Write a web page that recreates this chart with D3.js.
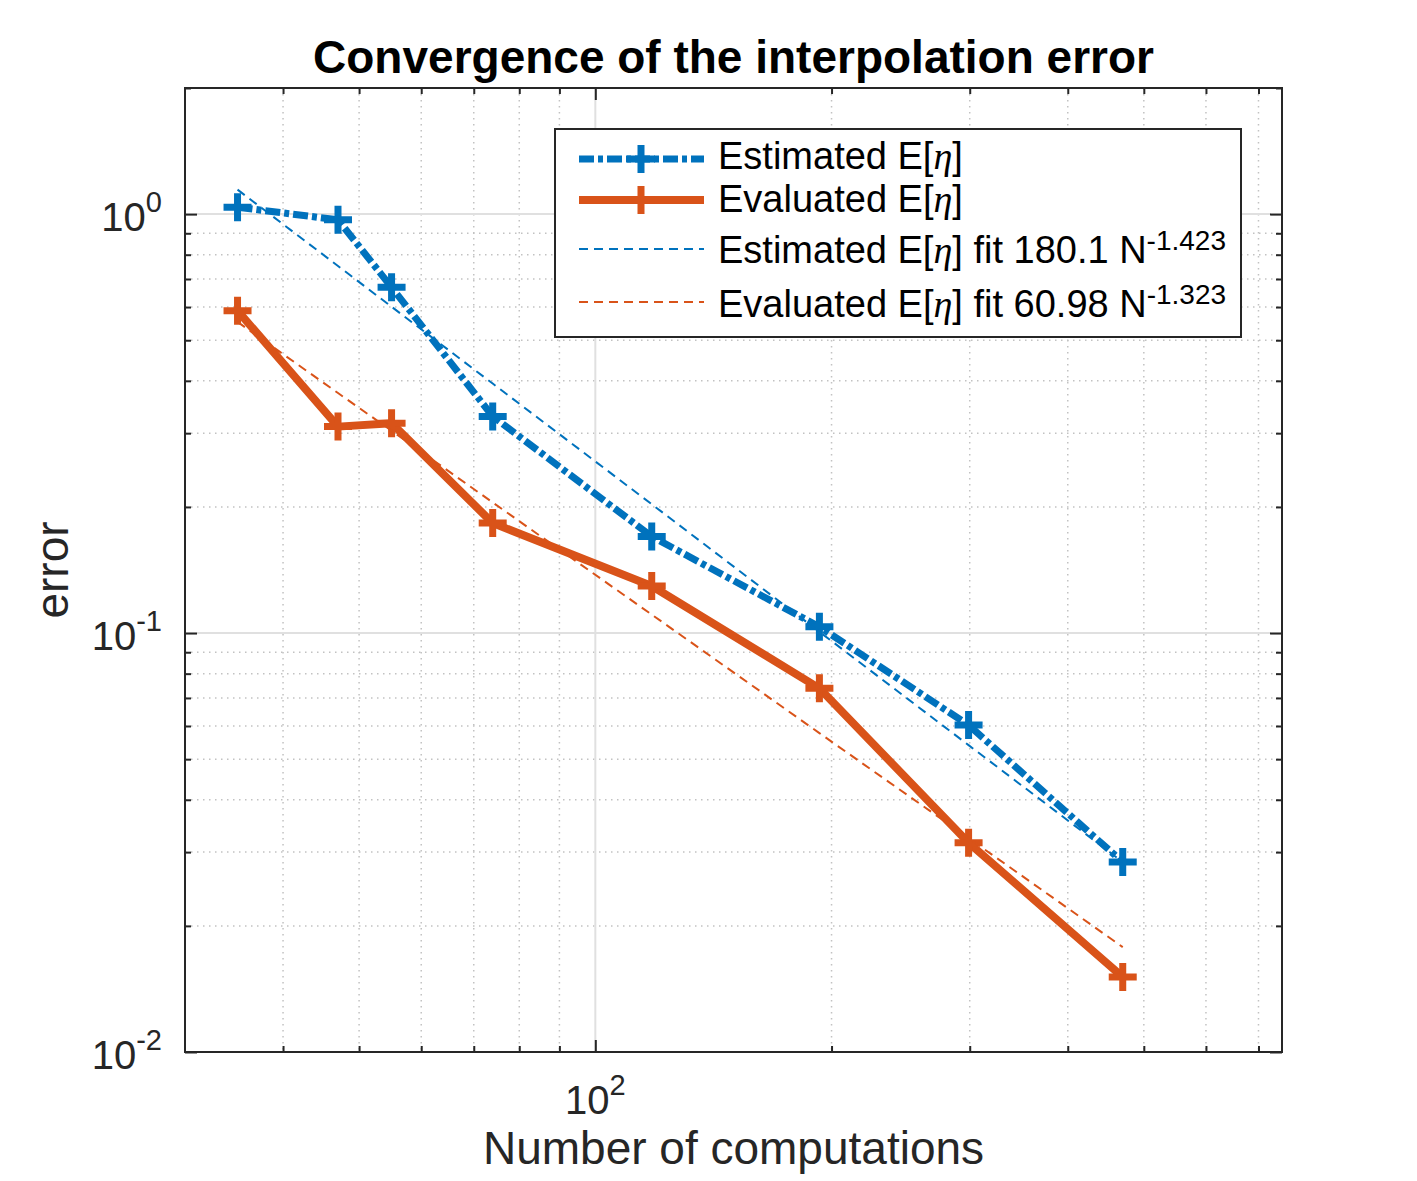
<!DOCTYPE html>
<html>
<head>
<meta charset="utf-8">
<script src="https://cdn.jsdelivr.net/npm/d3@7"></script>
<style>
  body { margin: 0; background: #fff; }
  text { font-family: "Liberation Sans", Arial, sans-serif; fill: #262626; }
</style>
</head>
<body>
<div id="chart"></div>
<script>
// data
var nComputations = [35, 47, 55, 74, 118, 193, 299, 470];
var estimatedErr = [1.039, 0.969, 0.669, 0.329, 0.170, 0.1035, 0.0603, 0.0284];
var evaluatedErr = [0.588, 0.311, 0.317, 0.183, 0.1295, 0.0738, 0.0316, 0.0151];
var estimatedFit = [1.144, 0.752, 0.601, 0.394, 0.203, 0.1007, 0.054, 0.0284];
var evaluatedFit = [0.553, 0.374, 0.304, 0.205, 0.1107, 0.0577, 0.0324, 0.0178];

var xMajor = [100];
var xMinor = [40, 50, 60, 70, 80, 90, 200, 300, 400, 500, 600, 700];
var yMajor = [0.01, 0.1, 1];
var yMinor = [0.02, 0.03, 0.04, 0.05, 0.06, 0.07, 0.08, 0.09,
              0.2, 0.3, 0.4, 0.5, 0.6, 0.7, 0.8, 0.9, 2];

var legendLabels = [
  {name: "Estimated E[", sup: null},
  {name: "Evaluated E[", sup: null},
  {name: "Estimated E[", after: "] fit 180.1 N", sup: "-1.423"},
  {name: "Evaluated E[", after: "] fit 60.98 N", sup: "-1.323"}
];

var blue = "#0072BD";
var orange = "#D95319";
var axisColor = "#262626";

var svgWidth = 1417;
var svgHeight = 1181;

var margin = {top: 88, right: 135, bottom: 129, left: 185};
var width = svgWidth - margin.left - margin.right;
var height = svgHeight - margin.top - margin.bottom;

var svg = d3.select("#chart")
  .append("svg")
  .attr("width", svgWidth)
  .attr("height", svgHeight);

var chartGroup = svg.append("g")
  .attr("transform", `translate(${margin.left}, ${margin.top})`);

var xScale = d3.scaleLog().domain([30, 750]).range([0, width]);
var yScale = d3.scaleLog().domain([0.01, 2]).range([height, 0]);

// grid lines
var gridGroup = chartGroup.append("g");

gridGroup.selectAll(".xminor")
  .data(xMinor)
  .enter()
  .append("line")
  .attr("x1", d => xScale(d)).attr("x2", d => xScale(d))
  .attr("y1", 0).attr("y2", height)
  .attr("stroke", "#c2c2c2")
  .attr("stroke-width", 1.5)
  .attr("stroke-dasharray", "1.5,4.5");

gridGroup.selectAll(".yminor")
  .data(yMinor)
  .enter()
  .append("line")
  .attr("x1", 0).attr("x2", width)
  .attr("y1", d => yScale(d)).attr("y2", d => yScale(d))
  .attr("stroke", "#c2c2c2")
  .attr("stroke-width", 1.5)
  .attr("stroke-dasharray", "1.5,4.5");

gridGroup.selectAll(".xmajor")
  .data(xMajor)
  .enter()
  .append("line")
  .attr("x1", d => xScale(d)).attr("x2", d => xScale(d))
  .attr("y1", 0).attr("y2", height)
  .attr("stroke", "#e0e0e0")
  .attr("stroke-width", 2);

gridGroup.selectAll(".ymajor")
  .data(yMajor)
  .enter()
  .append("line")
  .attr("x1", 0).attr("x2", width)
  .attr("y1", d => yScale(d)).attr("y2", d => yScale(d))
  .attr("stroke", "#e0e0e0")
  .attr("stroke-width", 2);

// series
var line = d3.line()
  .x(d => xScale(d[0]))
  .y(d => yScale(d[1]));

function plusPath(s) {
  return `M${-s},0H${s}M0,${-s}V${s}`;
}

function drawSeries(values, color, lw, dash, marker) {
  var pts = nComputations.map((n, i) => [n, values[i]]);
  var g = chartGroup.append("g");
  g.append("path")
    .datum(pts)
    .attr("d", line)
    .attr("fill", "none")
    .attr("stroke", color)
    .attr("stroke-width", lw)
    .attr("stroke-dasharray", dash)
    .attr("stroke-linejoin", "round");
  if (marker) {
    g.selectAll(".marker")
      .data(pts)
      .enter()
      .append("path")
      .attr("transform", d => `translate(${xScale(d[0])},${yScale(d[1])})`)
      .attr("d", plusPath(14))
      .attr("stroke", color)
      .attr("stroke-width", 7)
      .attr("fill", "none");
  }
}

drawSeries(estimatedErr, blue, 7, "15,4,5,4", true);
drawSeries(evaluatedErr, orange, 8, null, true);
drawSeries(estimatedFit, blue, 2, "9,6", false);
drawSeries(evaluatedFit, orange, 2, "9,6", false);

// axes: box and inward ticks
function addTicks(axis, values, size, transform) {
  chartGroup.append("g")
    .attr("transform", transform)
    .attr("color", axisColor)
    .call(axis.tickValues(values).tickSize(size).tickSizeOuter(0).tickFormat(""))
    .call(g => g.select(".domain").remove())
    .selectAll("line").attr("stroke-width", 2);
}

addTicks(d3.axisBottom(xScale), xMajor, -12, `translate(0,${height})`);
addTicks(d3.axisBottom(xScale), xMinor, -6, `translate(0,${height})`);
addTicks(d3.axisTop(xScale), xMajor, -12, "translate(0,0)");
addTicks(d3.axisTop(xScale), xMinor, -6, "translate(0,0)");
addTicks(d3.axisLeft(yScale), yMajor, -12, "translate(0,0)");
addTicks(d3.axisLeft(yScale), yMinor, -6, "translate(0,0)");
addTicks(d3.axisRight(yScale), yMajor, -12, `translate(${width},0)`);
addTicks(d3.axisRight(yScale), yMinor, -6, `translate(${width},0)`);

chartGroup.append("rect")
  .attr("width", width)
  .attr("height", height)
  .attr("fill", "none")
  .attr("stroke", axisColor)
  .attr("stroke-width", 2);

// tick labels
var xLabels = chartGroup.append("g").selectAll("text")
  .data(xMajor)
  .enter()
  .append("text")
  .attr("x", d => xScale(d))
  .attr("y", height + 62)
  .attr("text-anchor", "middle")
  .attr("font-size", 40);
xLabels.append("tspan").text("10");
xLabels.append("tspan")
  .attr("dy", -19)
  .attr("font-size", 29)
  .text(d => Math.round(Math.log10(d)));

var yLabels = chartGroup.append("g").selectAll("text")
  .data(yMajor)
  .enter()
  .append("text")
  .attr("x", -23)
  .attr("y", d => yScale(d) + 17)
  .attr("text-anchor", "end")
  .attr("font-size", 40);
yLabels.append("tspan").text("10");
yLabels.append("tspan")
  .attr("dy", -19)
  .attr("font-size", 29)
  .text(d => Math.round(Math.log10(d)));

// axis titles
svg.append("text")
  .attr("x", margin.left + width / 2)
  .attr("y", 1164)
  .attr("text-anchor", "middle")
  .attr("font-size", 46)
  .text("Number of computations");

svg.append("text")
  .attr("transform", `translate(68,${margin.top + height / 2})rotate(-90)`)
  .attr("text-anchor", "middle")
  .attr("font-size", 46)
  .text("error");

svg.append("text")
  .attr("x", margin.left + width / 2)
  .attr("y", 73)
  .attr("text-anchor", "middle")
  .attr("font-size", 46)
  .attr("font-weight", "bold")
  .style("fill", "#000")
  .text("Convergence of the interpolation error");

// legend
var legend = svg.append("g");
legend.append("rect")
  .attr("x", 555).attr("y", 129)
  .attr("width", 686).attr("height", 208)
  .attr("fill", "#fff")
  .attr("stroke", axisColor)
  .attr("stroke-width", 2);

var legendRows = [
  {color: blue, lw: 7, dash: "15,4,5,4", marker: true, lineY: 159, textY: 169},
  {color: orange, lw: 8, dash: null, marker: true, lineY: 200, textY: 212},
  {color: blue, lw: 2, dash: "9,6", marker: false, lineY: 249, textY: 263},
  {color: orange, lw: 2, dash: "9,6", marker: false, lineY: 302, textY: 317}
];

legendRows.forEach(function(r, i) {
  legend.append("line")
    .attr("x1", 579).attr("x2", 704)
    .attr("y1", r.lineY).attr("y2", r.lineY)
    .attr("stroke", r.color)
    .attr("stroke-width", r.lw)
    .attr("stroke-dasharray", r.dash);
  if (r.marker) {
    legend.append("path")
      .attr("transform", `translate(641,${r.lineY})`)
      .attr("d", plusPath(14))
      .attr("stroke", r.color)
      .attr("stroke-width", 7);
  }
  var lab = legendLabels[i];
  var t = legend.append("text")
    .attr("x", 718)
    .attr("y", r.textY)
    .attr("font-size", 38)
    .style("fill", "#000");
  t.append("tspan").text(lab.name);
  t.append("tspan")
    .attr("font-family", "'Liberation Serif', serif")
    .attr("font-style", "italic")
    .attr("font-size", 38)
    .text("\u03B7");
  t.append("tspan").text(lab.after || "]");
  if (lab.sup) {
    t.append("tspan")
      .attr("dy", -13)
      .attr("font-size", 28)
      .text(lab.sup);
  }
});
</script>
</body>
</html>
